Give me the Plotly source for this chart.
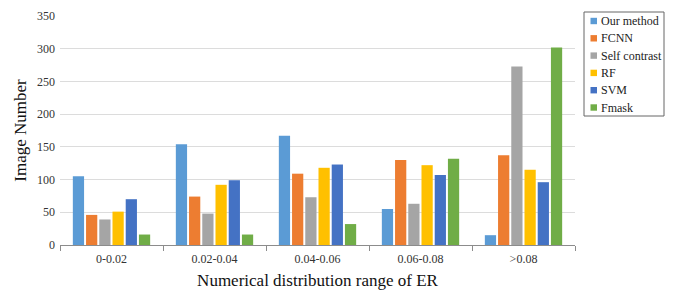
import plotly.graph_objects as go

categories = ["0-0.02", "0.02-0.04", "0.04-0.06", "0.06-0.08", ">0.08"]
series_names = ["Our method", "FCNN", "Self contrast", "RF", "SVM", "Fmask"]
our_method = [105, 154, 167, 55, 15]
fcnn = [46, 74, 109, 130, 137]
self_contrast = [39, 48, 73, 63, 273]
rf = [51, 92, 118, 122, 115]
svm = [70, 99, 123, 107, 96]
fmask = [16, 16, 32, 132, 302]
colors = ["#5B9BD5", "#ED7D31", "#A5A5A5", "#FFC000", "#4472C4", "#70AD47"]

series_values = [our_method, fcnn, self_contrast, rf, svm, fmask]
font_family = "Liberation Serif, Times New Roman, serif"

W, H = 674, 290
L, R, T, B = 60, 99, 16, 45
pw, ph = W - L - R, H - T - B


def px_x(x):
    return (x - L) / pw


def px_y(y):
    return (H - B - y) / ph


fig = go.Figure()
for name, vals, col in zip(series_names, series_values, colors):
    fig.add_trace(go.Bar(x=categories, y=vals, name=name, marker=dict(color=col, line=dict(width=0))))

# custom legend (box + colored squares + labels)
shapes = [dict(type="rect", xref="paper", yref="paper",
               x0=px_x(584), x1=px_x(664), y0=px_y(116), y1=px_y(12),
               line=dict(color="#666666", width=1), fillcolor="white", layer="above")]
annotations = []
row0, step = 21, 17.3
for i, (name, col) in enumerate(zip(series_names, colors)):
    cy = row0 + i * step
    shapes.append(dict(type="rect", xref="paper", yref="paper",
                       x0=px_x(590.5), x1=px_x(597), y0=px_y(cy + 3.2), y1=px_y(cy - 3.2),
                       line=dict(width=0), fillcolor=col, layer="above"))
    annotations.append(dict(xref="paper", yref="paper", x=px_x(599), y=px_y(cy),
                            xanchor="left", yanchor="middle", text=name, showarrow=False,
                            font=dict(size=12, family=font_family, color="#222222")))

fig.update_layout(
    width=W, height=H,
    margin=dict(l=L, r=R, t=T, b=B, autoexpand=False),
    paper_bgcolor="white", plot_bgcolor="white",
    barmode="group", bargap=0.23, bargroupgap=0.15,
    font=dict(family=font_family, color="#333333"),
    showlegend=False,
    shapes=shapes, annotations=annotations,
)
fig.update_xaxes(
    showline=True, linecolor="#8c8c8c", linewidth=1,
    ticks="outside", tickson="boundaries", ticklen=5, tickcolor="#8c8c8c",
    ticklabelstandoff=3,
    tickfont=dict(size=12, family=font_family, color="#333333"),
    title=dict(text="Numerical distribution range of ER", font=dict(size=17, family=font_family, color="#111111"), standoff=13),
)
fig.update_yaxes(
    range=[0, 350], dtick=50, showgrid=True, gridcolor="#dcdcdc", gridwidth=1,
    showline=False, zeroline=True, zerolinecolor="#8c8c8c", zerolinewidth=1,
    ticks="", ticklabelstandoff=4,
    tickfont=dict(size=12, family=font_family, color="#333333"),
    title=dict(text="Image Number", font=dict(size=17, family=font_family, color="#111111"), standoff=6),
)

fig.write_html("out.html", config={"displayModeBar": False},
               post_script="document.body.style.margin='0';")
